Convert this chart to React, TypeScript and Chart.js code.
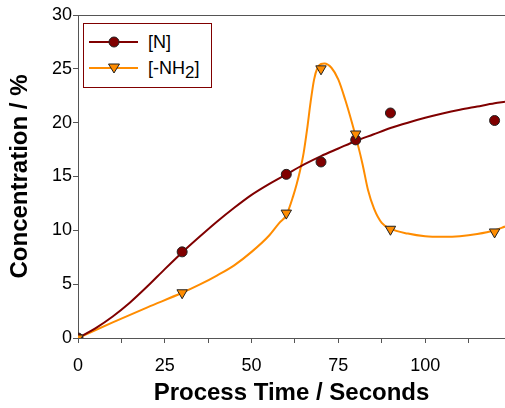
import React, { useEffect, useRef } from "react";
import { Chart, registerables } from "chart.js";

Chart.register(...registerables);

// Measured points
const sampleTimes = [0, 30, 60, 70, 80, 90, 120];
const nValues = [0, 8.0, 15.2, 16.35, 18.4, 20.9, 20.2];
const nh2Values = [0, 4.2, 11.6, 25.0, 18.95, 10.1, 9.85];

// Fitted curves
const nFitTimes = [0, 5, 10, 15, 20, 25, 30, 35, 40, 45, 50, 55, 60, 65, 70, 75, 80, 85, 90, 95, 100, 105, 110, 115, 120, 123];
const nFitValues = [0, 0.9, 2.0, 3.3, 4.8, 6.4, 7.95, 9.4, 10.8, 12.1, 13.3, 14.3, 15.2, 16.1, 16.9, 17.6, 18.3, 18.9, 19.5, 20.0, 20.45, 20.85, 21.2, 21.5, 21.8, 21.95];
const nh2FitTimes = [0, 10, 20, 30, 35, 40, 45, 50, 55, 58, 60, 62, 63, 64, 65, 66, 67, 68, 69, 70, 71, 73, 75, 77, 79, 80.5, 82, 83.5, 85.3, 87.5, 90, 95, 100, 105, 110, 115, 120, 123];
const nh2FitValues = [0, 1.45, 2.85, 4.2, 4.95, 5.8, 6.75, 8.0, 9.5, 10.7, 11.4, 13.2, 14.3, 15.6, 17.2, 19.4, 21.9, 24.0, 25.1, 25.45, 25.5, 25.1, 24.0, 22.1, 19.9, 18.1, 16.1, 13.8, 12.0, 10.7, 10.15, 9.7, 9.45, 9.4, 9.45, 9.65, 10.0, 10.35];

const xTickLabels = [0, 25, 50, 75, 100];
const yTickValues = [0, 5, 10, 15, 20, 25, 30];

const DARK_RED = "#800000";
const ORANGE = "#FF8C00";
const AXIS = "#555555";
const FONT = "'Liberation Sans', Arial, sans-serif";

const toXY = (xs: number[], ys: number[]) => xs.map((x, i) => ({ x, y: ys[i] }));

export default function App() {
  const ref = useRef<HTMLCanvasElement>(null);

  useEffect(() => {
    if (!ref.current) return;
    const chart = new Chart(ref.current, {
      type: "scatter",
      data: {
        datasets: [
          {
            label: "N fit",
            data: toXY(nFitTimes, nFitValues),
            showLine: true,
            borderColor: DARK_RED,
            borderWidth: 2,
            pointRadius: 0,
            cubicInterpolationMode: "monotone",
            order: 3,
          },
          {
            label: "NH2 fit",
            data: toXY(nh2FitTimes, nh2FitValues),
            showLine: true,
            borderColor: ORANGE,
            borderWidth: 2,
            pointRadius: 0,
            cubicInterpolationMode: "monotone",
            order: 4,
          },
          {
            label: "[N]",
            data: toXY(sampleTimes, nValues),
            showLine: false,
            pointStyle: "circle",
            pointRadius: 5,
            backgroundColor: DARK_RED,
            borderColor: "#222",
            borderWidth: 1,
            order: 1,
          },
          {
            label: "[-NH2]",
            data: toXY(sampleTimes, nh2Values),
            showLine: false,
            pointStyle: "triangle",
            pointRotation: 180,
            pointRadius: 6,
            backgroundColor: ORANGE,
            borderColor: "#222",
            borderWidth: 1,
            order: 0,
          },
        ],
      },
      options: {
        animation: false,
        responsive: false,
        layout: { autoPadding: false, padding: { top: 15, right: 0, left: 0, bottom: 0 } },
        plugins: { legend: { display: false }, tooltip: { enabled: false } },
        scales: {
          x: {
            type: "linear",
            min: 0,
            max: 123,
            afterFit: (s: any) => {
              s.height = 70;
              s.paddingLeft = 0;
              s.paddingRight = 0;
            },
            afterBuildTicks: (s: any) => {
              const t = [];
              for (let v = 0; v <= 123; v += 12.5) t.push({ value: v });
              s.ticks = t;
            },
            border: { display: true, color: AXIS, width: 1 },
            grid: { drawOnChartArea: false, drawTicks: true, tickLength: 5, tickColor: AXIS },
            ticks: {
              padding: 12,
              maxRotation: 0,
              autoSkip: false,
              color: "#000",
              font: { family: FONT, size: 18 },
              callback: (v: any) => (xTickLabels.includes(Number(v)) ? String(v) : ""),
            },
            title: {
              display: true,
              text: "Process Time / Seconds",
              color: "#000",
              font: { family: FONT, size: 24, weight: "bold" },
              padding: { top: 0, bottom: 0 },
            },
          },
          y: {
            type: "linear",
            min: 0,
            max: 30,
            afterFit: (s: any) => {
              s.width = 78;
            },
            afterBuildTicks: (s: any) => {
              s.ticks = yTickValues.map((v) => ({ value: v }));
            },
            border: { display: true, color: AXIS, width: 1 },
            grid: {
              drawOnChartArea: true,
              drawTicks: true,
              tickLength: 5,
              tickColor: AXIS,
              color: (ctx: any) => (ctx.tick && ctx.tick.value === 30 ? AXIS : "rgba(0,0,0,0)"),
            },
            ticks: {
              padding: 1,
              color: "#000",
              font: { family: FONT, size: 18 },
            },
            title: {
              display: true,
              text: "Concentration / %",
              color: "#000",
              font: { family: FONT, size: 24, weight: "bold" },
              padding: { top: 6, bottom: 0 },
            },
          },
        },
      },
    });
    return () => chart.destroy();
  }, []);

  const rowStyle: React.CSSProperties = {
    position: "absolute",
    left: 0,
    height: 26,
    display: "flex",
    alignItems: "center",
    fontFamily: FONT,
    fontSize: 18,
    color: "#000",
  };

  return (
    <div style={{ position: "absolute", left: 0, top: 0, width: 505, height: 408, background: "#fff" }}>
      <canvas ref={ref} width={505} height={408} style={{ display: "block" }} />
      <div
        style={{
          position: "absolute",
          left: 83,
          top: 23,
          width: 127,
          height: 63,
          border: `1px solid ${DARK_RED}`,
          background: "#fff",
        }}
      >
        <div style={{ ...rowStyle, top: 5 }}>
          <svg width={60} height={26} style={{ marginLeft: 4 }}>
            <line x1={1} y1={13} x2={50} y2={13} stroke={DARK_RED} strokeWidth={2} />
            <circle cx={26} cy={13} r={5} fill={DARK_RED} stroke="#222" strokeWidth={1} />
          </svg>
          <span>[N]</span>
        </div>
        <div style={{ ...rowStyle, top: 31 }}>
          <svg width={60} height={26} style={{ marginLeft: 4 }}>
            <line x1={1} y1={13} x2={50} y2={13} stroke={ORANGE} strokeWidth={2} />
            <polygon points="20.5,9 31.5,9 26,18" fill={ORANGE} stroke="#222" strokeWidth={1} />
          </svg>
          <span>
            [-NH<span style={{ fontSize: 17, position: "relative", top: 4 }}>2</span>]
          </span>
        </div>
      </div>
    </div>
  );
}
